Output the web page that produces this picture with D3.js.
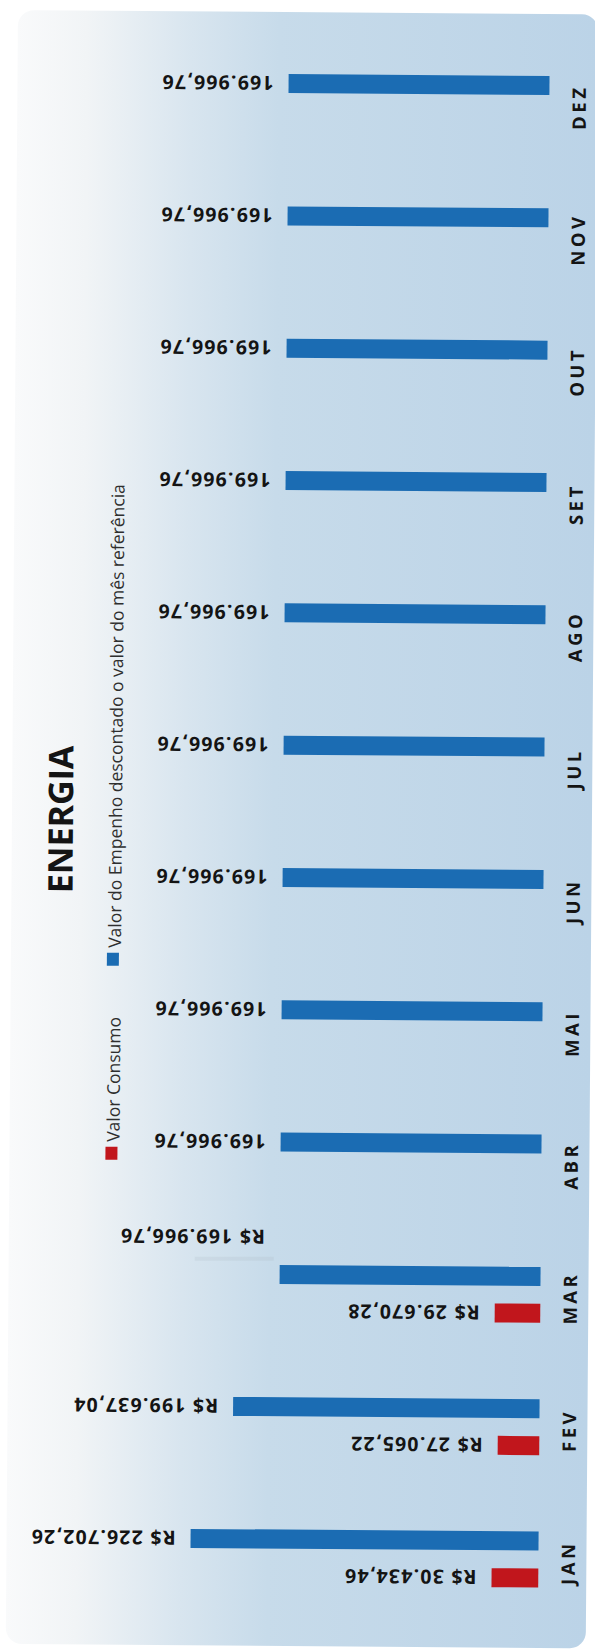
<!DOCTYPE html>
<html>
<head>
<meta charset="utf-8">
<script src="https://cdn.jsdelivr.net/npm/d3@7"></script>
<style>
  html, body { margin: 0; padding: 0; background: #ffffff; }
  svg { display: block; }
</style>
</head>
<body>
<div id="chart"></div>
<script>
// ---------- data ----------
const months = ["JAN", "FEV", "MAR", "ABR", "MAI", "JUN", "JUL", "AGO", "SET", "OUT", "NOV", "DEZ"];
const empenho = [226702.26, 199637.04, 169966.76, 169966.76, 169966.76, 169966.76,
                 169966.76, 169966.76, 169966.76, 169966.76, 169966.76, 169966.76];
const consumo = [30434.46, 27065.22, 29670.28, null, null, null, null, null, null, null, null, null];
const seriesKeys = ["empenho", "consumo"];
const seriesNames = ["Valor do Empenho descontado o valor do mês referência", "Valor Consumo"];
const seriesColors = ["#1b6cb3", "#c1161c"];
const title = "ENERGIA";

// ---------- setup ----------
const W = 595, H = 1652;
const svg = d3.select("#chart").append("svg")
  .attr("width", W).attr("height", H)
  .attr("viewBox", `0 0 ${W} ${H}`);

const defs = svg.append("defs");
const grad = defs.append("linearGradient").attr("id", "bg")
  .attr("x1", "0").attr("x2", "1").attr("y1", "0").attr("y2", "0");
[[0, "#f9fafb"], [0.12, "#f1f4f6"], [0.3, "#d8e5ef"], [0.45, "#c7dbea"], [1, "#bbd3e7"]]
  .forEach(([o, c]) => grad.append("stop").attr("offset", o).attr("stop-color", c));

const root = svg.append("g").attr("transform", "rotate(0.43, 544, 813)");

root.append("rect")
  .attr("x", 12).attr("y", 14).attr("width", 580).attr("height", 1634)
  .attr("rx", 16).attr("fill", "url(#bg)");

// ---------- scales ----------
const y = d3.scaleBand()
  .domain(months.slice().reverse())
  .range([76, 1587.5])
  .paddingInner(0.577)
  .paddingOuter(0);

const ySub = d3.scaleBand()
  .domain(seriesKeys)
  .range([0, y.bandwidth()])
  .paddingInner(0.486);

const x = d3.scaleLinear().domain([0, 250000]).range([544, 160.25]);

const ptBR = d3.formatLocale({ decimal: ",", thousands: ".", grouping: [3], currency: ["R$ ", ""] });
const fmtCur = ptBR.format("$,.2f");
const fmtNum = ptBR.format(",.2f");

const rows = months.map((m, i) => ({ month: m, empenho: empenho[i], consumo: consumo[i] }));
const items = [];
rows.forEach(r => {
  seriesKeys.forEach((k, si) => {
    if (r[k] != null) items.push({ month: r.month, key: k, si, value: r[k], hasConsumo: r.consumo != null });
  });
});

// ---------- bars ----------
root.append("g").selectAll("rect").data(items).join("rect")
  .attr("x", d => x(d.value))
  .attr("width", d => x(0) - x(d.value))
  .attr("y", d => y(d.month) + ySub(d.key))
  .attr("height", ySub.bandwidth())
  .attr("fill", d => seriesColors[d.si]);

// ---------- value labels (upside down, as in the scan) ----------
const labelGap = 15;
function labelPos(d) {
  let px = x(d.value) - labelGap;
  let py = y(d.month) + ySub(d.key) + ySub.bandwidth() / 2;
  if (d.month === "MAR" && d.key === "empenho") py -= 37; // label lifted above its bar
  return [px, py];
}
// faint leader for the lifted label
items.filter(d => d.month === "MAR" && d.key === "empenho").forEach(d => {
  const [px, py] = labelPos(d);
  root.append("line")
    .attr("x1", x(d.value) - 6).attr("y1", y(d.month) + ySub(d.key) - 6)
    .attr("x2", px - 70).attr("y2", py + 22)
    .attr("stroke", "#a9b3bc").attr("stroke-opacity", 0.18).attr("stroke-width", 4);
});

root.append("g").selectAll("text").data(items).join("text")
  .attr("x", d => labelPos(d)[0])
  .attr("y", d => labelPos(d)[1])
  .attr("transform", d => `rotate(180, ${labelPos(d)[0]}, ${labelPos(d)[1]})`)
  .attr("text-anchor", "start")
  .attr("dominant-baseline", "central")
  .attr("font-family", "'Open Sans', sans-serif")
  .attr("font-weight", 700)
  .attr("font-size", 19.5)
  .attr("letter-spacing", 1.2)
  .attr("fill", "#141414")
  .text(d => (d.key === "consumo" || d.hasConsumo) ? fmtCur(d.value) : fmtNum(d.value));

// ---------- month axis ----------
const axisG = root.append("g")
  .attr("transform", "translate(573,0)")
  .call(d3.axisRight(y).tickSize(0).tickPadding(0));
axisG.select(".domain").remove();
axisG.selectAll("text")
  .attr("x", -3).attr("dy", null).attr("y", 0)
  .attr("transform", "rotate(-90)")
  .attr("text-anchor", "middle")
  .attr("dominant-baseline", "central")
  .attr("font-family", "'Open Sans', sans-serif")
  .attr("font-weight", 700)
  .attr("font-size", 18.5)
  .attr("letter-spacing", 3.5)
  .attr("fill", "#141414");

// ---------- title ----------
root.append("text")
  .attr("transform", "translate(60, 823) rotate(-90)")
  .attr("text-anchor", "middle")
  .attr("dominant-baseline", "central")
  .attr("font-family", "'Open Sans', sans-serif")
  .attr("font-weight", 700)
  .attr("font-size", 34)
  .attr("fill", "#141414")
  .text(title);

// ---------- legend ----------
const legendPos = [{ sqY: 956, txtY: 951 }, { sqY: 1150, txtY: 1145 }];
seriesNames.forEach((name, i) => {
  const lp = legendPos[i];
  root.append("rect")
    .attr("x", 108).attr("y", lp.sqY).attr("width", 12).attr("height", 13)
    .attr("fill", seriesColors[i]);
  root.append("text")
    .attr("transform", `translate(115, ${lp.txtY}) rotate(-90)`)
    .attr("text-anchor", "start")
    .attr("dominant-baseline", "central")
    .attr("font-family", "'Open Sans', sans-serif")
    .attr("font-size", 17.5)
    .attr("fill", "#2e2e2e")
    .text(name);
});
</script>
</body>
</html>
